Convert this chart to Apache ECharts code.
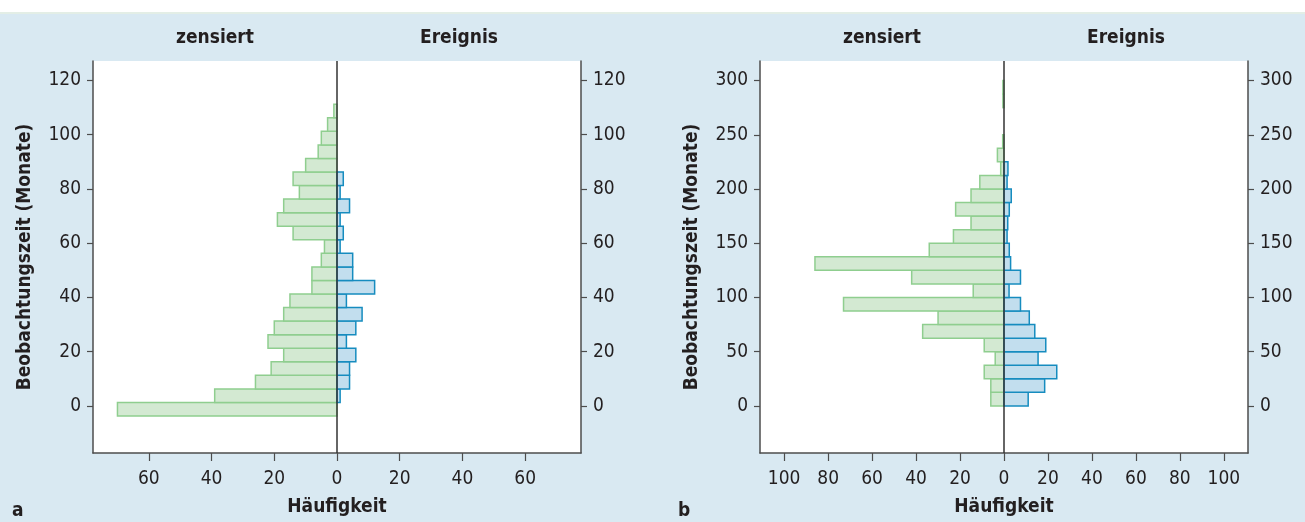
<!DOCTYPE html>
<html>
<head>
<meta charset="utf-8">
<script src="https://cdn.jsdelivr.net/npm/echarts@6/dist/echarts.min.js"></script>
<style>
html,body{margin:0;padding:0;background:#d9e9f2;}
#chart{width:1305px;height:522px;}
</style>
</head>
<body>
<div id="chart"></div>
<script>
// ---------- Data ----------
// Panel a: bin lower edges (months), bin width 5
const binsA = [-3.75, 1.25, 6.25, 11.25, 16.25, 21.25, 26.25, 31.25, 36.25, 41.25, 46.25, 51.25,
               56.25, 61.25, 66.25, 71.25, 76.25, 81.25, 86.25, 91.25, 96.25, 101.25, 106.25];
const binWidthA = 5;
const zensiertA = [70, 39, 26, 21, 17, 22, 20, 17, 15, 8, 8, 5, 4, 14, 19, 17, 12, 14, 10, 6, 5, 3, 1];
const ereignisA = [0, 1, 4, 4, 6, 3, 6, 8, 3, 12, 5, 5, 1, 2, 1, 4, 1, 2, 0, 0, 0, 0, 0];

// Panel b: bin lower edges (months), bin width 12.5
const binsB = [0, 12.5, 25, 37.5, 50, 62.5, 75, 87.5, 100, 112.5, 125, 137.5,
               150, 162.5, 175, 187.5, 200, 212.5, 225, 237.5, 250, 262.5, 275, 287.5];
const binWidthB = 12.5;
const zensiertB = [6, 6, 9, 4, 9, 37, 30, 73, 14, 42, 86, 34, 23, 15, 22, 15, 11, 1.5, 3, 0.6, 0, 0, 0.5, 0.5];
const ereignisB = [11, 18.5, 24, 15.5, 19, 14, 11.5, 7.5, 2.3, 7.5, 3, 2.4, 1.4, 1.7, 2.4, 3.3, 1.4, 1.8, 0, 0, 0, 0, 0, 0];

const xTicksA = [-60, -40, -20, 0, 20, 40, 60];
const yTicksA = [0, 20, 40, 60, 80, 100, 120];
const xTicksB = [-100, -80, -60, -40, -20, 0, 20, 40, 60, 80, 100];
const yTicksB = [0, 50, 100, 150, 200, 250, 300];

const headerLeft = 'zensiert';
const headerRight = 'Ereignis';
const xName = 'Häufigkeit';
const yName = 'Beobachtungszeit (Monate)';

// ---------- Styles ----------
const FONT = "'DejaVu Sans Condensed', 'DejaVu Sans', sans-serif";
const TXT = '#231f20';
const AX = '#4d4d4d';
const GREEN_FILL = '#d3e9d2', GREEN_LINE = '#8fce8f';
const BLUE_FILL = '#c2deee', BLUE_LINE = '#168cbf';

function toItems(bins, w, vals) {
  return bins.map((b, i) => [b, b + w, vals[i]]);
}

function barRender(sign, fill, stroke) {
  return function (params, api) {
    const y0 = api.value(0), y1 = api.value(1), v = api.value(2);
    if (!v) return null;
    const p0 = api.coord([0, y0]);
    const p1 = api.coord([sign * v, y1]);
    return {
      type: 'rect',
      shape: {
        x: Math.min(p0[0], p1[0]), y: Math.min(p0[1], p1[1]),
        width: Math.abs(p1[0] - p0[0]), height: Math.abs(p1[1] - p0[1])
      },
      style: { fill: fill, stroke: stroke, lineWidth: 1.5 }
    };
  };
}

const grids = [
  { left: 93, top: 61, width: 488, height: 394 },
  { left: 760, top: 61, width: 488, height: 394 }
];

function xAxisCfg(gi, lim, ticks) {
  return {
    type: 'value', gridIndex: gi, min: -lim, max: lim,
    splitLine: { show: false },
    axisLine: { show: true, onZero: false, lineStyle: { color: AX, width: 1.5 } },
    axisTick: { show: true, length: 8, customValues: ticks, lineStyle: { color: AX, width: 1.2 } },
    axisLabel: { customValues: ticks, margin: 17, color: TXT, fontFamily: FONT, fontSize: 19,
                 formatter: v => String(Math.abs(v)) },
    name: xName, nameLocation: 'middle', nameGap: 45,
    nameTextStyle: { color: TXT, fontFamily: FONT, fontSize: 19, fontWeight: 'bold' }
  };
}

function yAxisCfg(gi, lo, hi, ticks, pos, withName) {
  const c = {
    type: 'value', gridIndex: gi, min: lo, max: hi, position: pos,
    splitLine: { show: false },
    axisLine: { show: true, onZero: false, lineStyle: { color: AX, width: 1.5 } },
    axisTick: { show: true, length: 6, customValues: ticks, lineStyle: { color: AX, width: 1.2 } },
    axisLabel: { customValues: ticks, margin: 12, color: TXT, fontFamily: FONT, fontSize: 19 }
  };
  if (withName) {
    c.name = yName; c.nameLocation = 'middle'; c.nameGap = 58;
    c.nameTextStyle = { color: TXT, fontFamily: FONT, fontSize: 19, fontWeight: 'bold' };
  }
  return c;
}

const limA = 77.8, limB = 111;
const yA = [-17.4, 127.2], yB = [-43.4, 318];

const chart = echarts.init(document.getElementById('chart'), null, { renderer: 'canvas' });

const option = {
  backgroundColor: '#d9e9f2',
  animation: false,
  grid: grids.map(g => Object.assign({ show: true, backgroundColor: '#ffffff', borderWidth: 0 }, g)),
  xAxis: [xAxisCfg(0, limA, xTicksA), xAxisCfg(1, limB, xTicksB)],
  yAxis: [
    yAxisCfg(0, yA[0], yA[1], yTicksA, 'left', true),
    yAxisCfg(0, yA[0], yA[1], yTicksA, 'right', false),
    yAxisCfg(1, yB[0], yB[1], yTicksB, 'left', true),
    yAxisCfg(1, yB[0], yB[1], yTicksB, 'right', false)
  ],
  series: [
    { type: 'custom', xAxisIndex: 0, yAxisIndex: 0, encode: { x: 2, y: [0, 1] },
      renderItem: barRender(-1, GREEN_FILL, GREEN_LINE), data: toItems(binsA, binWidthA, zensiertA), clip: true, z: 2 },
    { type: 'custom', xAxisIndex: 0, yAxisIndex: 0, encode: { x: 2, y: [0, 1] },
      renderItem: barRender(1, BLUE_FILL, BLUE_LINE), data: toItems(binsA, binWidthA, ereignisA), clip: true, z: 2 },
    { type: 'line', xAxisIndex: 0, yAxisIndex: 0, data: [[0, yA[0]], [0, yA[1]]], symbol: 'none',
      lineStyle: { color: '#333', width: 1.5 }, z: 3, silent: true },
    { type: 'custom', xAxisIndex: 1, yAxisIndex: 2, encode: { x: 2, y: [0, 1] },
      renderItem: barRender(-1, GREEN_FILL, GREEN_LINE), data: toItems(binsB, binWidthB, zensiertB), clip: true, z: 2 },
    { type: 'custom', xAxisIndex: 1, yAxisIndex: 2, encode: { x: 2, y: [0, 1] },
      renderItem: barRender(1, BLUE_FILL, BLUE_LINE), data: toItems(binsB, binWidthB, ereignisB), clip: true, z: 2 },
    { type: 'line', xAxisIndex: 1, yAxisIndex: 2, data: [[0, yB[0]], [0, yB[1]]], symbol: 'none',
      lineStyle: { color: '#333', width: 1.5 }, z: 3, silent: true }
  ],
  graphic: [
    { type: 'rect', left: 0, top: 0, shape: { width: 1305, height: 13 }, style: { fill: '#ffffff' }, z: 0 },
    { type: 'rect', left: 0, top: 12, shape: { width: 1305, height: 2 }, style: { fill: '#e3eee6' }, z: 0 },
    { type: 'text', x: 215, y: 38, style: { text: headerLeft, align: 'center', verticalAlign: 'middle', fill: TXT, font: "bold 19px " + FONT } },
    { type: 'text', x: 459, y: 38, style: { text: headerRight, align: 'center', verticalAlign: 'middle', fill: TXT, font: "bold 19px " + FONT } },
    { type: 'text', x: 882, y: 38, style: { text: headerLeft, align: 'center', verticalAlign: 'middle', fill: TXT, font: "bold 19px " + FONT } },
    { type: 'text', x: 1126, y: 38, style: { text: headerRight, align: 'center', verticalAlign: 'middle', fill: TXT, font: "bold 19px " + FONT } },
    { type: 'text', x: 12, y: 511, style: { text: 'a', align: 'left', verticalAlign: 'middle', fill: TXT, font: "bold 19px " + FONT } },
    { type: 'text', x: 678, y: 511, style: { text: 'b', align: 'left', verticalAlign: 'middle', fill: TXT, font: "bold 19px " + FONT } }
  ]
};
chart.setOption(option);
</script>
</body>
</html>
